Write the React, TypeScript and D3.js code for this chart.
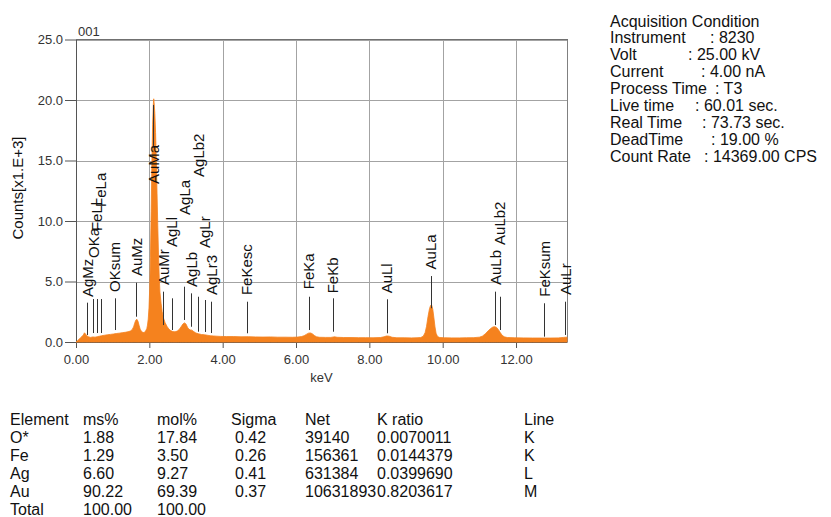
import React, { useRef, useEffect } from 'react';
import * as d3 from 'd3';

// EDS spectrum, [keV, counts x1000]
const spectrum: [number, number][] = [
  [0.00, 0.00], [0.04, 0.10], [0.08, 0.22], [0.12, 0.34], [0.16, 0.45], [0.20, 0.58], [0.23, 0.76], [0.26, 0.66],
  [0.30, 0.50], [0.35, 0.42], [0.40, 0.38], [0.46, 0.42], [0.52, 0.40], [0.58, 0.44], [0.64, 0.48], [0.70, 0.52],
  [0.78, 0.56], [0.86, 0.60], [0.94, 0.63], [1.02, 0.66], [1.10, 0.70], [1.18, 0.73], [1.26, 0.77], [1.34, 0.80],
  [1.42, 0.85], [1.48, 0.90], [1.53, 1.02], [1.57, 1.25], [1.60, 1.55], [1.63, 1.80], [1.66, 1.88], [1.69, 1.72],
  [1.72, 1.38], [1.75, 1.06], [1.79, 0.86], [1.83, 0.78], [1.87, 0.80], [1.90, 0.92],
  [1.93, 1.10], [1.95, 1.40], [1.97, 1.90], [1.99, 2.80], [2.01, 4.40], [2.03, 7.00], [2.05, 10.8], [2.07, 14.8],
  [2.09, 18.0], [2.11, 19.7], [2.12, 20.1], [2.13, 19.8], [2.15, 18.9], [2.17, 17.3], [2.19, 15.0], [2.21, 12.3],
  [2.23, 9.6], [2.25, 7.2], [2.27, 5.3], [2.29, 4.1], [2.32, 3.2], [2.35, 2.5], [2.39, 1.95], [2.43, 1.6],
  [2.48, 1.3], [2.53, 1.08], [2.58, 0.95], [2.64, 0.86],
  [2.70, 0.84], [2.76, 0.90], [2.82, 1.05], [2.87, 1.28], [2.92, 1.50], [2.96, 1.58], [3.00, 1.48], [3.04, 1.22],
  [3.08, 1.05], [3.12, 1.00], [3.16, 0.98], [3.21, 0.86], [3.27, 0.74], [3.34, 0.68], [3.42, 0.62], [3.50, 0.60],
  [3.58, 0.56], [3.66, 0.52], [3.74, 0.50], [3.84, 0.48], [3.95, 0.46], [4.10, 0.45],
  [4.30, 0.45], [4.50, 0.43], [4.70, 0.44], [4.90, 0.42], [5.10, 0.41], [5.30, 0.42], [5.50, 0.40], [5.70, 0.40],
  [5.90, 0.39], [6.05, 0.41],
  [6.15, 0.45], [6.22, 0.52], [6.28, 0.63], [6.34, 0.73], [6.39, 0.75], [6.44, 0.69], [6.50, 0.54], [6.56, 0.43],
  [6.64, 0.39], [6.80, 0.38], [6.95, 0.38], [7.05, 0.43], [7.12, 0.39], [7.30, 0.37], [7.50, 0.37], [7.70, 0.36],
  [7.90, 0.36], [8.10, 0.35], [8.30, 0.37], [8.40, 0.43], [8.47, 0.50], [8.54, 0.48], [8.62, 0.39], [8.75, 0.35],
  [8.95, 0.35], [9.15, 0.34], [9.30, 0.35], [9.40, 0.37],
  [9.47, 0.48], [9.52, 0.77], [9.56, 1.30], [9.60, 2.10], [9.64, 2.75], [9.67, 3.02], [9.70, 3.05], [9.73, 2.70],
  [9.76, 2.00], [9.79, 1.25], [9.82, 0.72], [9.86, 0.45], [9.92, 0.37],
  [10.05, 0.35], [10.25, 0.34], [10.45, 0.34], [10.65, 0.35], [10.85, 0.36],
  [11.00, 0.40], [11.08, 0.48], [11.16, 0.67], [11.24, 0.92], [11.31, 1.12], [11.37, 1.24], [11.42, 1.27],
  [11.47, 1.20], [11.52, 1.02], [11.57, 0.78], [11.62, 0.56], [11.68, 0.43], [11.76, 0.37],
  [11.95, 0.35], [12.20, 0.34], [12.45, 0.33], [12.70, 0.33], [12.95, 0.33], [13.15, 0.34], [13.30, 0.38], [13.39, 0.40],
];

// peak markers
const peakNames = ['AgMz', 'OKa', 'FeLl', 'FeLa', 'OKsum', 'AuMz', 'AuMa', 'AuMr', 'AgLl', 'AgLa', 'AgLb', 'AgLb2',
  'AgLr', 'AgLr3', 'FeKesc', 'FeKa', 'FeKb', 'AuLl', 'AuLa', 'AuLb', 'AuLb2', 'FeKsum', 'AuLr'];
const peakKeV = [0.31, 0.47, 0.57, 0.67, 1.06, 1.64, 2.11, 2.38, 2.61, 2.95, 3.14, 3.34,
  3.51, 3.69, 4.65, 6.35, 7.00, 8.47, 9.67, 11.43, 11.56, 12.77, 13.34];
const peakLineTop = [3.25, 3.55, 3.55, 3.55, 3.61, 4.9, 19.59, 4.16, 3.61, 4.57, 4.02, 3.74,
  3.47, 3.33, 3.33, 3.74, 3.61, 3.53, 5.45, 4.16, 3.74, 3.2, 3.33];
const peakLineBottom = [0.58, 0.74, 0.74, 0.74, 0.99, 2.09, 16.2, 1.4, 0.99, 1.82, 1.26, 0.85,
  0.83, 0.74, 0.72, 0.99, 0.85, 0.72, 2.79, 1.4, 0.99, 0.44, 0.58];
const peakLabelBase = [3.72, 6.94, 9.17, 11.16, 4.13, 5.45, 13.06, 4.71, 7.85, 10.5, 4.55, 13.64,
  7.77, 3.88, 3.88, 4.36, 4.02, 4.02, 6.0, 4.71, 8.02, 3.74, 3.88];

const yTicks = [0, 5, 10, 15, 20, 25];
const xTicks = [0, 2, 4, 6, 8, 10, 12];

const acqLabels = ['Instrument', 'Volt', 'Current', 'Process Time', 'Live time', 'Real Time', 'DeadTime', 'Count Rate'];
const acqValues = ['8230', '25.00 kV', '4.00 nA', 'T3', '60.01 sec.', '73.73 sec.', '19.00 %', '14369.00 CPS'];

const tableHeader = ['Element', 'ms%', 'mol%', 'Sigma', 'Net', 'K ratio', 'Line'];
const elements = ['O*', 'Fe', 'Ag', 'Au', 'Total'];
const msPct = ['1.88', '1.29', '6.60', '90.22', '100.00'];
const molPct = ['17.84', '3.50', '9.27', '69.39', '100.00'];
const sigma = ['0.42', '0.26', '0.41', '0.37', ''];
const net = ['39140', '156361', '631384', '10631893', ''];
const kRatio = ['0.0070011', '0.0144379', '0.0399690', '0.8203617', ''];
const lines = ['K', 'K', 'L', 'M', ''];

const FONT = "'Liberation Sans', Arial, sans-serif";

const App = () => {
  const chartRef = useRef<SVGSVGElement>(null);

  useEffect(() => {
    const svg = d3.select(chartRef.current);
    svg.selectAll('*').remove();
    svg.style('font-family', FONT);

    const left = 76, right = 567, top = 39.5, bottom = 342;
    const x = d3.scaleLinear().domain([0, 13.39]).range([left, right]);
    const y = d3.scaleLinear().domain([0, 25]).range([bottom, top]);

    // grid
    const grid = svg.append('g').attr('stroke', '#a3a3a3').attr('stroke-width', 1);
    grid.selectAll('line.h')
      .data(yTicks.slice(1))
      .enter()
      .append('line')
      .attr('x1', left).attr('x2', right)
      .attr('y1', (d) => Math.round(y(d)) + 0.5).attr('y2', (d) => Math.round(y(d)) + 0.5);
    grid.selectAll('line.v')
      .data(xTicks.slice(1))
      .enter()
      .append('line')
      .attr('y1', top).attr('y2', bottom)
      .attr('x1', (d) => Math.round(x(d)) + 0.5).attr('x2', (d) => Math.round(x(d)) + 0.5);
    grid.append('line')
      .attr('x1', right + 0.5).attr('x2', right + 0.5)
      .attr('y1', top).attr('y2', bottom)
      .attr('stroke', '#808080');

    // axes
    const yAxis = svg.append('g')
      .attr('transform', `translate(${left},0)`)
      .call(d3.axisLeft(y).tickValues(yTicks).tickFormat(d3.format('.1f')).tickSize(11).tickPadding(2).tickSizeOuter(0));
    const xAxis = svg.append('g')
      .attr('transform', `translate(0,${bottom})`)
      .call(d3.axisBottom(x).tickValues(xTicks).tickFormat(d3.format('.2f')).tickSize(6).tickPadding(7).tickSizeOuter(0));
    [yAxis, xAxis].forEach((a) => {
      a.select('.domain').attr('stroke', '#555');
      a.selectAll('.tick line').attr('stroke', '#555');
      a.selectAll('.tick text').attr('fill', '#333').style('font-size', '13px').style('font-family', FONT);
    });

    // spectrum
    const area = d3.area<[number, number]>()
      .x((d) => x(d[0]))
      .y0(y(0))
      .y1((d) => y(d[1]));
    svg.append('path')
      .datum(spectrum)
      .attr('d', area)
      .attr('fill', '#F5821E')
      .attr('stroke', '#F5821E')
      .attr('stroke-width', 0.8);

    // top border
    svg.append('line')
      .attr('x1', left).attr('x2', right + 1)
      .attr('y1', top).attr('y2', top)
      .attr('stroke', '#707070');

    // peak markers
    const markers = svg.append('g');
    markers.selectAll('line')
      .data(peakNames)
      .enter()
      .append('line')
      .attr('x1', (d, i) => Math.round(x(peakKeV[i])) + 0.5)
      .attr('x2', (d, i) => Math.round(x(peakKeV[i])) + 0.5)
      .attr('y1', (d, i) => y(peakLineTop[i]))
      .attr('y2', (d, i) => y(peakLineBottom[i]))
      .attr('stroke', '#333')
      .attr('stroke-width', 1);
    markers.selectAll('text')
      .data(peakNames)
      .enter()
      .append('text')
      .attr('transform', (d, i) => `translate(${x(peakKeV[i]) + 5.5},${y(peakLabelBase[i])}) rotate(-90)`)
      .attr('fill', '#111')
      .style('font-size', '15px')
      .text((d) => d);

    // titles
    svg.append('text')
      .attr('x', 78).attr('y', 36)
      .attr('fill', '#333')
      .style('font-size', '13px')
      .text('001');
    svg.append('text')
      .attr('x', (left + right) / 2).attr('y', 382)
      .attr('text-anchor', 'middle')
      .attr('fill', '#333')
      .style('font-size', '13px')
      .text('keV');
    svg.append('text')
      .attr('transform', 'translate(23,188) rotate(-90)')
      .attr('text-anchor', 'middle')
      .attr('fill', '#111')
      .style('font-size', '15px')
      .text('Counts[x1.E+3]');

    // acquisition condition
    const acq = svg.append('g').attr('fill', '#111').style('font-size', '16px');
    const acqColonX = [710, 688, 701, 715, 695, 702, 711, 704];
    acq.append('text').attr('x', 610).attr('y', 26.5).text('Acquisition Condition');
    acqLabels.forEach((label, i) => {
      const yy = 26.5 + (i + 1) * 16.9;
      acq.append('text').attr('x', 610).attr('y', yy).text(label);
      acq.append('text').attr('x', acqColonX[i]).attr('y', yy).text(`: ${acqValues[i]}`);
    });

    // result table
    const table = svg.append('g').attr('fill', '#111').style('font-size', '16px');
    const colX = [10, 83, 157, 231, 305, 377, 524];
    const rowY = (r: number) => 425 + r * 18;
    tableHeader.forEach((h, c) => {
      table.append('text').attr('x', colX[c]).attr('y', rowY(0)).text(h);
    });
    const columns = [elements, msPct, molPct, sigma, net, kRatio, lines];
    columns.forEach((col, c) => {
      col.forEach((v, r) => {
        if (!v) return;
        table.append('text')
          .attr('x', colX[c] + (c === 3 ? 4 : 0))
          .attr('y', rowY(r + 1))
          .text(v);
      });
    });
  }, []);

  return (
    <div style={{ position: 'absolute', left: 0, top: 0 }}>
      <svg ref={chartRef} width="831" height="517"></svg>
    </div>
  );
};

export default App;
